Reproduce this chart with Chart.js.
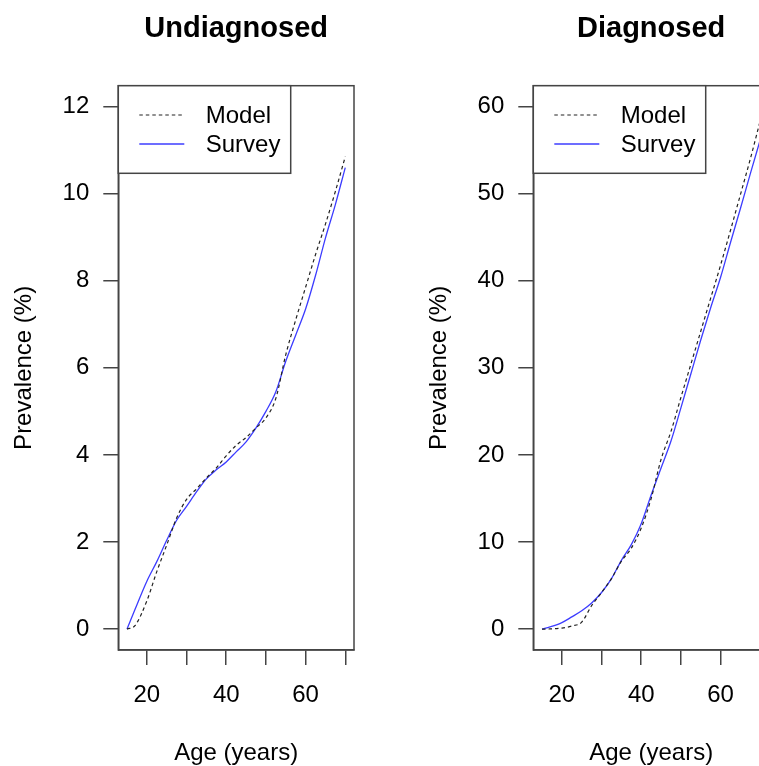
<!DOCTYPE html>
<html>
<head>
<meta charset="utf-8">
<script src="https://cdn.jsdelivr.net/npm/chart.js@4/dist/chart.umd.min.js"></script>
<style>
  html, body { margin: 0; padding: 0; background: #fff; width: 759px; height: 766px; overflow: hidden; }
  #wrap { position: relative; width: 759px; height: 766px; overflow: hidden; }
  canvas { position: absolute; top: 0; }
  #c1 { left: 0; }
  #c2 { left: 415px; }
</style>
</head>
<body>
<div id="wrap">
  <canvas id="c1" width="415" height="780"></canvas>
  <canvas id="c2" width="415" height="780"></canvas>
</div>
<script>
// ---- data ----
const ages = [15, 17, 20, 22.5, 25, 27.5, 30, 32.5, 35, 37.5, 40, 42.5, 45, 47.5, 50, 52.5, 55, 57.5, 60, 62.5, 65, 67.5, 70];

const undiagModel  = [0.0, 0.08, 0.65, 1.32, 1.93, 2.55, 2.98, 3.22, 3.47, 3.70, 3.98, 4.22, 4.40, 4.62, 4.85, 5.30, 6.30, 7.10, 7.85, 8.60, 9.30, 10.05, 10.85];
const undiagSurvey = [0.0, 0.45, 1.10, 1.55, 2.04, 2.50, 2.82, 3.15, 3.45, 3.66, 3.84, 4.07, 4.30, 4.62, 5.00, 5.45, 6.15, 6.75, 7.35, 8.12, 8.98, 9.75, 10.60];

const diagModel    = [0.0, 0.02, 0.12, 0.35, 0.80, 2.70, 4.20, 5.80, 7.80, 9.30, 11.6, 15.0, 19.5, 22.7, 26.6, 30.4, 34.2, 38.0, 41.8, 45.8, 49.9, 54.0, 58.4];
const diagSurvey   = [0.0, 0.25, 0.75, 1.40, 2.10, 3.00, 4.20, 5.80, 7.90, 9.70, 12.1, 15.4, 18.5, 21.6, 25.4, 29.3, 33.2, 36.9, 40.4, 44.4, 48.3, 52.3, 56.2];

const xTicks = [20, 30, 40, 50, 60, 70];
const xTickLabels = ['20', '', '40', '', '60', ''];
const undiagYTicks = [0, 2, 4, 6, 8, 10, 12];
const diagYTicks = [0, 10, 20, 30, 40, 50, 60];

const seriesNames = ['Model', 'Survey'];
const panelTitles = ['Undiagnosed', 'Diagnosed'];
const xTitle = 'Age (years)';
const yTitle = 'Prevalence (%)';

// ---- drawing ----
Chart.defaults.font.family = "'Liberation Sans', Arial, Helvetica, sans-serif";
Chart.defaults.color = '#000';

const AXIS_COL = '#444';

const boxPlugin = {
  id: 'rbox',
  afterDraw(chart) {
    const ca = chart.chartArea, ctx = chart.ctx;
    ctx.save();
    ctx.strokeStyle = AXIS_COL;
    ctx.lineWidth = 1.5;
    ctx.strokeRect(ca.left, ca.top, ca.right - ca.left, ca.bottom - ca.top);
    // legend
    const lw = 172.4, lh = 87.6;
    ctx.fillStyle = '#fff';
    ctx.fillRect(ca.left, ca.top, lw, lh);
    ctx.strokeRect(ca.left, ca.top, lw, lh);
    ctx.font = "24px 'Liberation Sans', Arial, sans-serif";
    ctx.textBaseline = 'middle';
    ctx.textAlign = 'left';
    chart.data.datasets.forEach((ds, i) => {
      const y = ca.top + 29.3 + i * 29;
      ctx.beginPath();
      ctx.strokeStyle = ds.borderColor;
      ctx.lineWidth = ds.borderWidth;
      ctx.setLineDash(ds.borderDash || []);
      ctx.moveTo(ca.left + 21, y);
      ctx.lineTo(ca.left + 66, y);
      ctx.stroke();
      ctx.setLineDash([]);
      ctx.fillStyle = '#000';
      ctx.fillText(ds.label, ca.left + 87.4, y + 1);
    });
    ctx.restore();
  }
};

function makeChart(id, title, yTicks, model, survey) {
  const yMax = yTicks[yTicks.length - 1];
  const yPad = 0.04 * yMax;
  const xSpan = ages[ages.length - 1] - ages[0];
  const xPad = 0.04 * xSpan;
  const toPts = arr => ages.map((a, i) => ({ x: a, y: arr[i] }));
  return new Chart(document.getElementById(id), {
    type: 'line',
    data: {
      datasets: [
        { label: seriesNames[0], data: toPts(model), borderColor: '#222', borderWidth: 1.2,
          borderDash: [3.5, 3], pointRadius: 0, fill: false, cubicInterpolationMode: 'monotone' },
        { label: seriesNames[1], data: toPts(survey), borderColor: 'rgb(60,60,255)', borderWidth: 1.3,
          pointRadius: 0, fill: false, cubicInterpolationMode: 'monotone' }
      ]
    },
    options: {
      responsive: false,
      animation: false,
      devicePixelRatio: 1,
      layout: { padding: { left: 0, right: 61, top: 0, bottom: 0 } },
      plugins: {
        legend: { display: false },
        tooltip: { enabled: false },
        title: {
          display: true, text: title, fullSize: false, color: '#000',
          font: { size: 29, weight: 'bold' },
          padding: { top: 11.3, bottom: 39.6 }
        }
      },
      scales: {
        x: {
          type: 'linear',
          min: ages[0] - xPad, max: ages[ages.length - 1] + xPad,
          afterBuildTicks: s => { s.ticks = xTicks.map(v => ({ value: v })); },
          afterFit: s => { s.height = 130; },
          ticks: {
            autoSkip: false, maxRotation: 0, minRotation: 0, padding: 16,
            font: { size: 24 }, color: '#000',
            callback: v => { const k = xTicks.indexOf(v); return k >= 0 ? xTickLabels[k] : ''; }
          },
          grid: { drawOnChartArea: false, drawTicks: true, tickLength: 15, color: AXIS_COL, lineWidth: 1.5 },
          border: { display: true, color: AXIS_COL, width: 1.5 },
          title: { display: true, text: xTitle, color: '#000', font: { size: 24 }, padding: { top: 0, bottom: 12.6 } }
        },
        y: {
          type: 'linear',
          min: yTicks[0] - yPad, max: yMax + yPad,
          afterBuildTicks: s => { s.ticks = yTicks.map(v => ({ value: v })); },
          afterFit: s => { s.width = 118.3; },
          ticks: { padding: 14, font: { size: 24 }, color: '#000', callback: v => String(v) },
          grid: { drawOnChartArea: false, drawTicks: true, tickLength: 15, color: AXIS_COL, lineWidth: 1.5 },
          border: { display: true, color: AXIS_COL, width: 1.5 },
          title: { display: true, text: yTitle, color: '#000', font: { size: 24 }, padding: { top: 9.6, bottom: 0 } }
        }
      }
    },
    plugins: [boxPlugin]
  });
}

makeChart('c1', panelTitles[0], undiagYTicks, undiagModel, undiagSurvey);
makeChart('c2', panelTitles[1], diagYTicks, diagModel, diagSurvey);
</script>
</body>
</html>
